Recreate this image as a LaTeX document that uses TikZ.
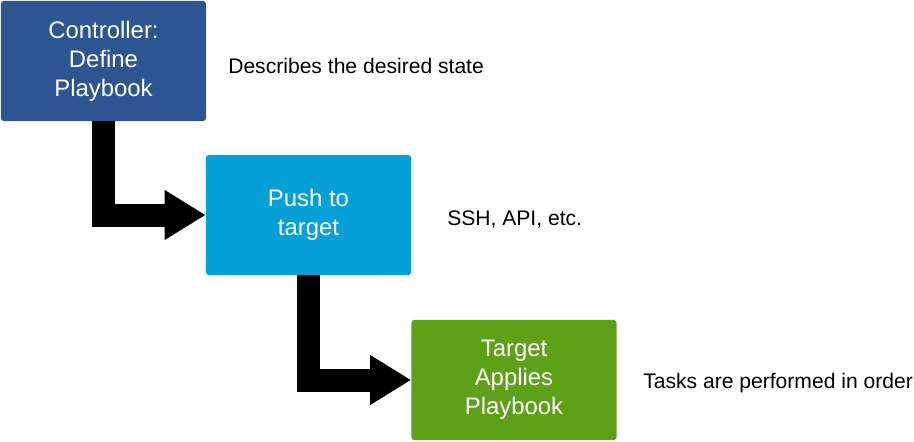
\documentclass[tikz,border=0pt]{standalone}
\usepackage{fontspec}
\setmainfont{Liberation Sans}
\usetikzlibrary{arrows.meta}
\definecolor{ctrlblue}{HTML}{2C5592}
\definecolor{pushblue}{HTML}{05A0D8}
\definecolor{applygreen}{HTML}{5EA118}
\begin{document}
\begin{tikzpicture}[x=0.025cm, y=-0.025cm,
    stepbox/.style={rectangle, rounded corners=2pt, text=white, align=center,
        minimum width=5.125cm, minimum height=3cm, inner sep=0pt,
        font=\fontsize{17}{20.6}\selectfont},
    note/.style={anchor=west, inner sep=0pt, font=\fontsize{15}{18}\selectfont},
    bigarrow/.style={line width=0.575cm, line join=miter,
        -{Triangle[length=1.025cm, width=1.175cm]}}]
            \useasboundingbox (0,0) rectangle (914,441);
            % Playbook steps
            \node[stepbox, fill=ctrlblue] (ctrl) at (103.5,61) {Controller:\\Define\\Playbook};
            \node[stepbox, fill=pushblue] (push) at (308.5,215) {Push to\\target};
            \node[stepbox, fill=applygreen] (apply) at (514,380) {Target\\Applies\\Playbook};

            \draw[bigarrow] (ctrl.south) |- (push.west);
            \draw[bigarrow] (push.south) |- (apply.west);

            \node[note] (desc) at (228,66) {Describes the desired state};
            \node[note] (ssh) at (447,219) {SSH, API, etc.};
            \node[note] (tasks) at (643,383) {Tasks are performed in order};
        \end{tikzpicture}
\end{document}
